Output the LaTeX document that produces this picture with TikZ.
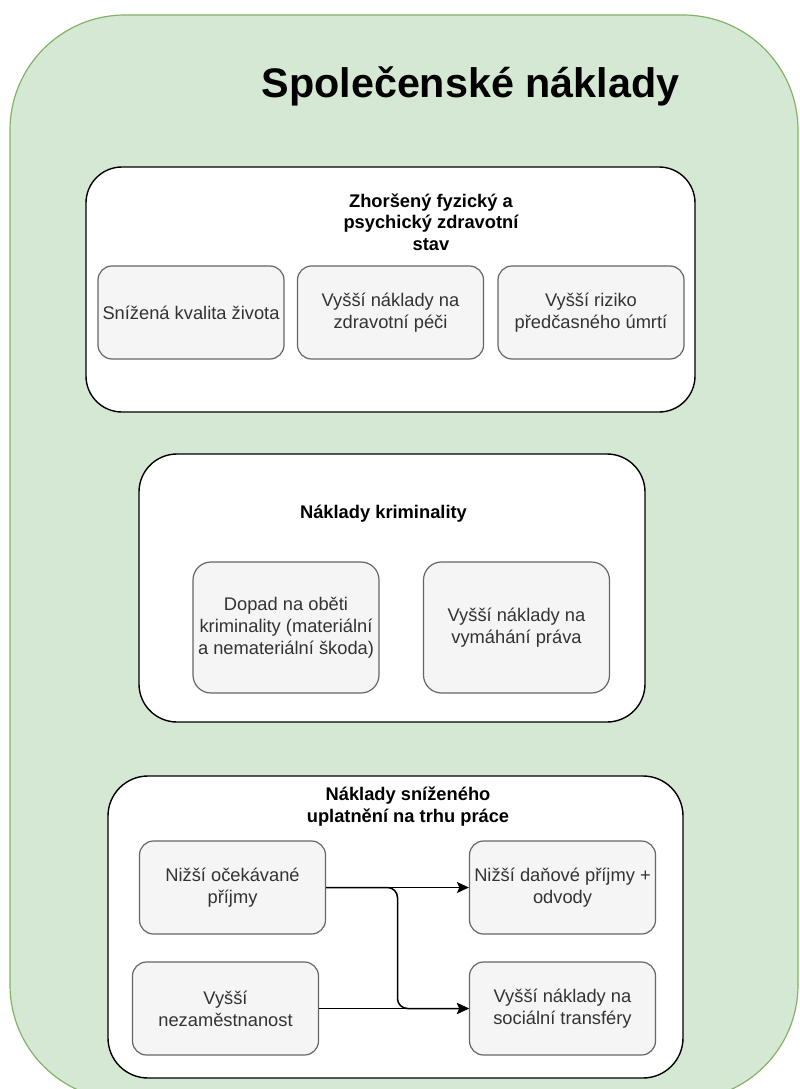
\documentclass[tikz,border=0pt]{standalone}
\usepackage{fontspec}
\setmainfont{Liberation Sans}
\usetikzlibrary{arrows.meta,calc}
\definecolor{outerfill}{HTML}{D5E8D4}
\definecolor{outerline}{HTML}{82B366}
\definecolor{itemfill}{HTML}{F5F5F5}
\definecolor{itemline}{HTML}{666666}
\definecolor{itemtext}{HTML}{333333}

\begin{document}
\begin{tikzpicture}[x=1pt,y=-1pt,
  >={Stealth[length=12pt,width=11pt,inset=2.5pt]},
  panel/.style={draw=black, line width=1.4pt, fill=white, inner sep=0pt},
  item/.style={draw=itemline, line width=1.2pt, fill=itemfill, text=itemtext,
    rounded corners=14pt, inner sep=0pt, align=center,
    font=\fontsize{18.3}{22}\selectfont,
    minimum width=186pt, minimum height=93pt},
  heading/.style={font=\bfseries\fontsize{18.3}{22}\selectfont, align=center, anchor=base},
  flow/.style={draw=black, line width=1.5pt, ->}
]
\useasboundingbox (0,0) rectangle (800,1089);

% outer green frame, running past the bottom edge
\begin{scope}
  \clip (0,0) rectangle (800,1089);
  \draw[fill=outerfill, draw=outerline, line width=1.2pt, rounded corners=115pt]
    (10,15) rectangle (798,1100);
\end{scope}

\node[font=\bfseries\fontsize{41.3}{48}\selectfont, anchor=base] (title) at (470.5,98) {Společenské náklady};

% group panels
\node[panel, rounded corners=36pt, minimum width=609pt, minimum height=245pt] (g1) at (390.5,289.5) {};
\node[panel, rounded corners=38pt, minimum width=506pt, minimum height=268pt] (g2) at (392,588) {};
\node[panel, rounded corners=40pt, minimum width=575pt, minimum height=302pt] (g3) at (395.5,927) {};

% panel headings
\node[heading, anchor=center, font=\bfseries\fontsize{18.3}{21.5}\selectfont] (t1) at (431,221.8) {Zhoršený fyzický a\\psychický zdravotní\\stav};
\node[heading] (t2) at (383.5,518) {Náklady kriminality};
\node[heading, anchor=center] (t3) at (408,807) {Náklady sníženého\\uplatnění na trhu práce};

% health
\node[item] (a) at (191,312.5) {Snížená kvalita života};
\node[item] (b) at (390.5,312.5) {Vyšší náklady na\\zdravotní péči};
\node[item] (c) at (591,312.5) {Vyšší riziko\\předčasného úmrtí};

% crime
\node[item, minimum height=131pt, rounded corners=18pt] (d) at (286,627.5) {Dopad na oběti\\kriminality (materiální\\a nemateriální škoda)};
\node[item, minimum height=131pt, rounded corners=18pt] (e) at (516.5,627.5) {Vyšší náklady na\\vymáhání práva};

% labour market
\node[item] (f) at (232.5,887.5) {Nižší očekávané\\příjmy};
\node[item] (g) at (562.5,887.5) {Nižší daňové příjmy +\\odvody};
\node[item] (h) at (225.5,1008.5) {Vyšší\\nezaměstnanost};
\node[item] (i) at (562.5,1008.5) {Vyšší náklady na\\sociální transféry};

\draw[flow] (f.east) -- (g.west);
\draw[flow, rounded corners=10pt] (f.east) -- ($(f.east)!0.5!(g.west)$) |- (i.west);
\draw[flow] (h.east) -- (i.west);
\end{tikzpicture}
\end{document}
